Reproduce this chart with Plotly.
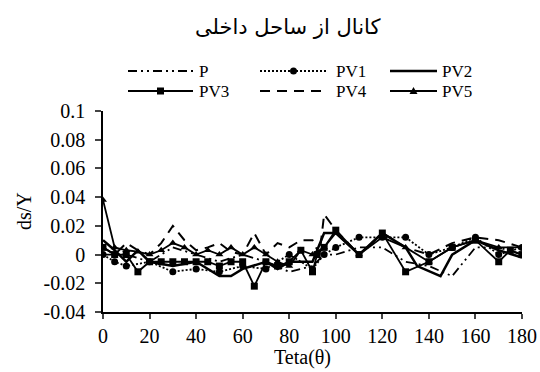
import plotly.graph_objects as go

# ---------------- data ----------------
theta_P = [0, 10, 20, 30, 40, 50, 60, 70, 80, 90, 95, 100, 110, 120, 130, 140, 150, 160, 170, 180]
P = [0.0, 0.0, -0.005, 0.005, 0.0, -0.005, 0.0, -0.005, -0.012, -0.008, 0.0, 0.0, 0.005, 0.005, -0.005, -0.008, -0.015, 0.005, 0.005, 0.0]

theta_PV1 = [0, 5, 10, 20, 30, 40, 50, 60, 70, 80, 90, 95, 100, 110, 120, 130, 140, 150, 160, 170, 180]
PV1 = [0.0, -0.005, -0.008, -0.005, -0.012, -0.01, -0.012, -0.008, -0.01, 0.0, -0.01, 0.0, 0.005, 0.012, 0.012, 0.012, 0.0, 0.005, 0.012, 0.0, 0.005]

theta_PV2 = [0, 5, 10, 15, 20, 30, 40, 50, 55, 60, 70, 75, 80, 90, 95, 100, 110, 120, 130, 135, 145, 150, 160, 170, 180]
PV2 = [0.01, 0.003, -0.005, 0.003, -0.005, -0.008, -0.005, -0.015, -0.015, -0.01, -0.005, -0.01, -0.005, -0.005, 0.015, 0.015, 0.0, 0.015, 0.005, -0.008, -0.015, 0.0, 0.01, 0.003, -0.002]

theta_PV3 = [0, 5, 10, 15, 20, 25, 30, 35, 40, 45, 50, 55, 60, 65, 70, 75, 80, 85, 90, 92, 95, 100, 110, 120, 130, 140, 150, 160, 170, 175, 180]
PV3 = [0.005, 0.0, 0.0, -0.012, -0.005, -0.005, -0.005, -0.005, -0.005, -0.005, -0.008, -0.005, -0.005, -0.022, -0.005, -0.008, -0.005, 0.003, -0.012, 0.0, 0.005, 0.017, 0.0, 0.015, -0.012, -0.005, 0.005, 0.01, -0.005, 0.003, 0.0]

theta_PV4 = [0, 5, 10, 15, 20, 25, 30, 35, 40, 45, 50, 55, 60, 65, 70, 75, 80, 85, 90, 93, 95, 100, 110, 120, 130, 140, 150, 160, 170, 180]
PV4 = [0.005, 0.0, 0.008, 0.003, 0.0, 0.008, 0.02, 0.01, 0.003, 0.005, 0.008, 0.002, 0.0, 0.015, 0.0, 0.008, 0.005, 0.01, 0.01, 0.0, 0.028, 0.017, 0.0, 0.015, 0.005, 0.0, 0.008, 0.012, 0.01, 0.005]

theta_PV5 = [0, 5, 10, 15, 20, 25, 30, 35, 40, 45, 50, 55, 60, 65, 70, 75, 80, 85, 90, 95, 100, 110, 120, 130, 140, 150, 160, 170, 180]
PV5 = [0.038, 0.005, 0.003, 0.002, 0.0, 0.003, 0.008, 0.005, 0.0, 0.003, 0.0, 0.005, 0.0, 0.005, 0.0, -0.005, -0.008, 0.003, 0.0, 0.005, 0.015, 0.0, 0.012, 0.005, -0.005, 0.005, 0.01, 0.005, 0.005]

x_ticks = [0, 20, 40, 60, 80, 100, 120, 140, 160, 180]
y_ticks = [-0.04, -0.02, 0, 0.02, 0.04, 0.06, 0.08, 0.1]
y_tick_text = ["-0.04", "-0.02", "0", "0.02", "0.04", "0.06", "0.08", "0.1"]

title_text = "کانال از ساحل داخلی"
x_title = "Teta(θ)"
y_title = "ds/Y"

# ---------------- figure ----------------
W, H = 540, 372
ML, MR, MT, MB = 103, 18, 111, 60
PW, PH = W - ML - MR, H - MT - MB
FONT = "'Liberation Serif', 'Times New Roman', serif"
FS = 20
LFS = 17
BLACK = "#000000"

styles = {
    "P": dict(line=dict(color=BLACK, width=1.8, dash="9px,4px,2px,4px,2px,4px"), mode="lines"),
    "PV1": dict(line=dict(color=BLACK, width=1.8, dash="2px,2px"), mode="lines+markers",
                marker=dict(symbol="circle", size=7, color=BLACK)),
    "PV2": dict(line=dict(color=BLACK, width=2.5), mode="lines"),
    "PV3": dict(line=dict(color=BLACK, width=1.8), mode="lines+markers",
                marker=dict(symbol="square", size=7, color=BLACK)),
    "PV4": dict(line=dict(color=BLACK, width=2, dash="10px,7px"), mode="lines"),
    "PV5": dict(line=dict(color=BLACK, width=1.8), mode="lines+markers",
                marker=dict(symbol="triangle-up", size=7, color=BLACK)),
}

series = [("P", theta_P, P), ("PV1", theta_PV1, PV1), ("PV2", theta_PV2, PV2),
          ("PV3", theta_PV3, PV3), ("PV4", theta_PV4, PV4), ("PV5", theta_PV5, PV5)]

fig = go.Figure()
for name, xs, ys in series:
    fig.add_trace(go.Scatter(x=xs, y=ys, name=name, showlegend=False, **styles[name]))


def px2paper(px, py):
    return (px - ML) / PW, (H - MB - py) / PH


# manual legend (two rows of three)
R1, R2 = 71, 91
legend_items = [
    ("P", 128, 193, R1, 197),
    ("PV1", 260, 327, R1, 334),
    ("PV2", 390, 437, R1, 440),
    ("PV3", 128, 193, R2, 197),
    ("PV4", 260, 327, R2, 334),
    ("PV5", 390, 437, R2, 440),
]
shapes = []
annotations = []
for name, x0, x1, yy, lx in legend_items:
    st = styles[name]
    a0, b0 = px2paper(x0, yy)
    a1, _ = px2paper(x1, yy)
    shapes.append(dict(type="line", xref="paper", yref="paper", x0=a0, x1=a1, y0=b0, y1=b0,
                       line=st["line"]))
    if "marker" in st:
        cx = (x0 + x1) / 2
        sym = st["marker"]["symbol"]
        r = 3.5
        if sym == "circle":
            c0 = px2paper(cx - r, yy - r); c1 = px2paper(cx + r, yy + r)
            shapes.append(dict(type="circle", xref="paper", yref="paper", x0=c0[0], x1=c1[0],
                               y0=c1[1], y1=c0[1], fillcolor=BLACK, line=dict(width=0)))
        elif sym == "square":
            c0 = px2paper(cx - r, yy - r); c1 = px2paper(cx + r, yy + r)
            shapes.append(dict(type="rect", xref="paper", yref="paper", x0=c0[0], x1=c1[0],
                               y0=c1[1], y1=c0[1], fillcolor=BLACK, line=dict(width=0)))
        else:
            pts = [px2paper(cx - 4, yy + 3), px2paper(cx + 4, yy + 3), px2paper(cx, yy - 4)]
            path = "M {} {} L {} {} L {} {} Z".format(pts[0][0], pts[0][1], pts[1][0], pts[1][1],
                                                      pts[2][0], pts[2][1])
            shapes.append(dict(type="path", xref="paper", yref="paper", path=path,
                               fillcolor=BLACK, line=dict(width=0)))
    tx, ty = px2paper(lx, yy)
    annotations.append(dict(text=name, x=tx, y=ty, xref="paper", yref="paper",
                            xanchor="left", yanchor="middle", showarrow=False,
                            font=dict(family=FONT, size=LFS, color=BLACK)))

# title
tx, ty = px2paper(287, 27)
annotations.append(dict(text=title_text, x=tx, y=ty, xref="paper", yref="paper",
                        xanchor="center", yanchor="middle", showarrow=False,
                        font=dict(family="'DejaVu Sans', sans-serif", size=21, color=BLACK)))
# axis titles
tx, ty = px2paper(302, 371)
annotations.append(dict(text=x_title, x=tx, y=ty, xref="paper", yref="paper",
                        xanchor="center", yanchor="bottom", showarrow=False,
                        font=dict(family=FONT, size=FS, color=BLACK)))
tx, ty = px2paper(24, 211)
annotations.append(dict(text=y_title, x=tx, y=ty, xref="paper", yref="paper",
                        xanchor="center", yanchor="middle", showarrow=False, textangle=-90,
                        font=dict(family=FONT, size=FS, color=BLACK)))

fig.update_layout(
    width=W, height=H,
    margin=dict(l=ML, r=MR, t=MT, b=MB, autoexpand=False),
    paper_bgcolor="white", plot_bgcolor="white",
    showlegend=False,
    shapes=shapes, annotations=annotations,
    font=dict(family=FONT, size=FS, color=BLACK),
)
fig.update_xaxes(range=[0, 180], tickvals=x_ticks, ticks="outside", ticklen=5, tickwidth=1.5,
                 showline=True, linecolor=BLACK, linewidth=1.5, showgrid=False, zeroline=False,
                 tickfont=dict(family=FONT, size=FS, color=BLACK))
fig.update_yaxes(range=[-0.04, 0.1], tickvals=y_ticks, ticktext=y_tick_text, ticks="outside",
                 ticklen=6, tickwidth=1.5, showline=True, linecolor=BLACK, linewidth=1.5,
                 showgrid=False, zeroline=False, ticklabelstandoff=6,
                 tickfont=dict(family=FONT, size=FS, color=BLACK))

fig.write_html("out.html")
